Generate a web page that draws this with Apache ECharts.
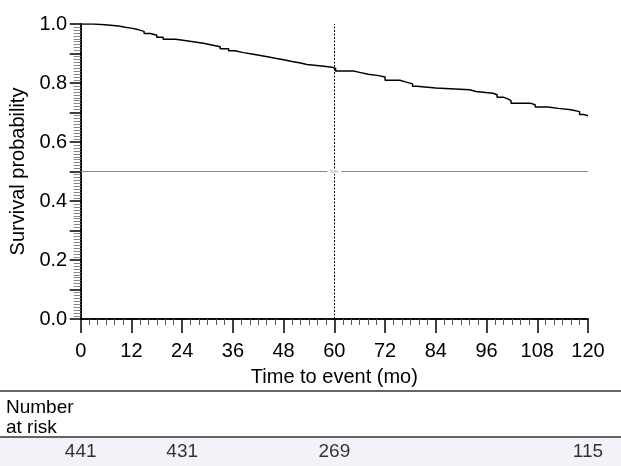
<!DOCTYPE html>
<html>
<head>
<meta charset="utf-8">
<script src="https://cdn.jsdelivr.net/npm/echarts@6/dist/echarts.min.js"></script>
<style>html,body{margin:0;padding:0;background:#fff}#c{width:621px;height:466px}</style>
</head>
<body>
<div id="c"></div>
<script>
// Kaplan-Meier step curve (months, survival probability)
var times = [0,3,5,7,9,10.5,12,13.5,15,16.5,18,19.5,22.5,25,27,29,31,33,35,36.5,38.5,40.5,42.5,44.5,46,48,50,52,53.5,57,59.5,60.3,64.5,66,68,70.5,72,75.5,77,78.5,79.5,84,92,93.5,97.5,98.5,100,101,101.8,106.5,107.5,110.5,113,116,118,119,120];
var survival = [1.000,0.998,0.996,0.993,0.989,0.986,0.981,0.975,0.968,0.962,0.955,0.948,0.943,0.939,0.935,0.929,0.923,0.916,0.909,0.903,0.898,0.893,0.888,0.884,0.879,0.873,0.868,0.863,0.858,0.853,0.849,0.841,0.836,0.830,0.825,0.820,0.809,0.803,0.797,0.789,0.783,0.777,0.771,0.765,0.760,0.752,0.746,0.740,0.731,0.726,0.719,0.714,0.709,0.703,0.693,0.689,0.688];
var yTickLabels = ['0.0','0.2','0.4','0.6','0.8','1.0'];
var riskTimes = [0,24,60,120];
var riskCounts = [441,431,269,115];
var landmarkTime = 60;
var medianLevel = 0.5;

var FONT = 'Liberation Sans, Arial, Helvetica, sans-serif';
var FS = 20;
var FSB = 19;
var chart = echarts.init(document.getElementById('c'), null, {renderer:'canvas'});
var curve = times.map(function(t,i){return [t, survival[i]];});
var risk = riskTimes.map(function(t,i){return [t, 0.5, riskCounts[i]];});

chart.setOption({
  animation:false,
  backgroundColor:'#fff',
  textStyle:{fontFamily:FONT},
  graphic:[
    {type:'rect', shape:{x:0,y:437,width:621,height:29}, style:{fill:'#f2f3f8'}, z:-10},
    {type:'line', shape:{x1:0,y1:391,x2:621,y2:391}, style:{stroke:'#333',lineWidth:1.5}},
    {type:'line', shape:{x1:0,y1:437,x2:621,y2:437}, style:{stroke:'#333',lineWidth:1.5}},
    {type:'text', left:6, top:398, style:{text:'Number\nat risk', fontSize:FSB, lineHeight:20, fontFamily:FONT, fill:'#000'}}
  ],
  grid:[
    {left:80.7, right:33, top:24, bottom:147},
    {left:80.7, right:33, top:438, height:28}
  ],
  xAxis:[
    {gridIndex:0, type:'value', min:0, max:120, interval:12, offset:4,
     axisLine:{show:true, lineStyle:{color:'#000', width:1.5}},
     axisTick:{show:true, inside:false, length:14, lineStyle:{color:'#000', width:1.5}},
     minorTick:{show:true, splitNumber:6, length:6, lineStyle:{color:'#555', width:1}},
     axisLabel:{fontSize:FS, color:'#000', margin:18, fontFamily:FONT},
     splitLine:{show:false},
     name:'Time to event (mo)', nameLocation:'middle', nameGap:44,
     nameTextStyle:{fontSize:FS, color:'#000', fontFamily:FONT}},
    {gridIndex:0, type:'value', min:0, max:120, position:'top', offset:3,
     axisLine:{show:true, lineStyle:{color:'#000', width:1.5}},
     axisTick:{show:false}, axisLabel:{show:false}, splitLine:{show:false}},
    {gridIndex:1, type:'value', min:0, max:120, show:false}
  ],
  yAxis:[
    {gridIndex:0, type:'value', min:0, max:1, interval:0.1, offset:1.5,
     axisLine:{show:true, lineStyle:{color:'#000', width:1.5}},
     axisTick:{show:true, inside:false, length:11, lineStyle:{color:'#000', width:1.5}},
     minorTick:{show:true, splitNumber:10, length:7, lineStyle:{color:'#888', width:1}},
     axisLabel:{fontSize:FS, color:'#000', margin:12, fontFamily:FONT,
       formatter:function(v){var s=v.toFixed(1); return yTickLabels.indexOf(s)>=0 ? s : '';}},
     splitLine:{show:false},
     name:'Survival probability', nameLocation:'middle', nameGap:51, nameRotate:90,
     nameTextStyle:{fontSize:FS, color:'#000', fontFamily:FONT}},
    {gridIndex:0, type:'value', min:0, max:1, position:'right', offset:2,
     axisLine:{show:true, lineStyle:{color:'#000', width:1.5}},
     axisTick:{show:false}, axisLabel:{show:false}, splitLine:{show:false}},
    {gridIndex:1, type:'value', min:0, max:1, show:false}
  ],
  series:[
    {type:'line', xAxisIndex:0, yAxisIndex:0, data:curve, step:'end', showSymbol:false, symbol:'none',
     lineStyle:{color:'#000', width:1.5}, z:5,
     markLine:{silent:true, symbol:'none', label:{show:false},
       data:[{yAxis:medianLevel, lineStyle:{color:'#888', width:1, type:'solid'}}]},
     markPoint:{silent:true, symbol:'rect', symbolSize:[14,5], itemStyle:{color:'#fff'},
       label:{show:true, formatter:'50%', fontSize:4, color:'#888'},
       data:[{coord:[landmarkTime, medianLevel]}]}},
    {type:'line', xAxisIndex:0, yAxisIndex:0, data:[], z:6,
     markLine:{silent:true, symbol:'none', label:{show:false},
       data:[{xAxis:landmarkTime, lineStyle:{color:'#000', width:1, type:[2,1.5]}}]}},
    {type:'scatter', xAxisIndex:2, yAxisIndex:2, data:risk, symbolSize:0,
     label:{show:true, position:'inside', fontSize:FSB, color:'#000', fontFamily:FONT,
       formatter:function(p){return String(p.value[2]);}}}
  ]
});
</script>
</body>
</html>
